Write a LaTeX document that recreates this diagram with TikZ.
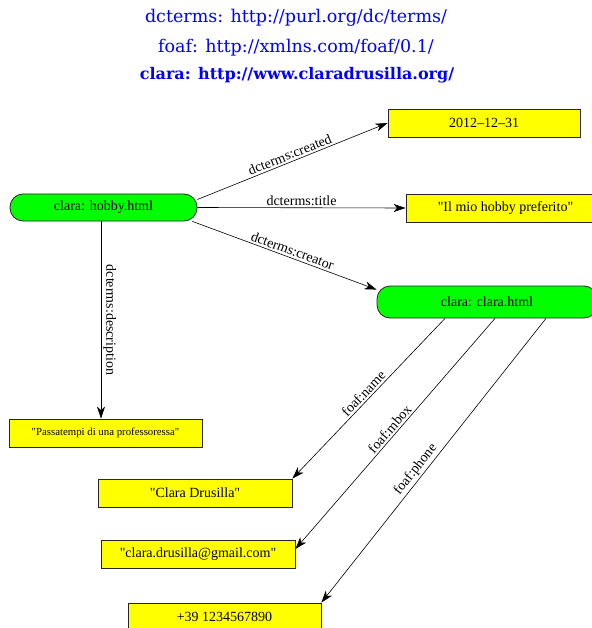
\documentclass[tikz,border=0pt]{standalone}
\usepackage{fontspec}
\setmainfont{Liberation Serif}
\newfontfamily\headfont{DejaVu Serif}
\usetikzlibrary{arrows.meta}
\definecolor{resgreen}{HTML}{00FF00}
\definecolor{lityellow}{HTML}{FFFF00}
\definecolor{headblue}{HTML}{0000FF}
\newcommand{\dq}{\textquotedbl}
\tikzset{
  resource/.style={draw=black!85, line width=0.8pt, fill=resgreen, rounded corners=13pt,
    inner sep=0pt, font=\fontsize{14}{16}\selectfont},
  literal/.style={draw=black!85, line width=0.8pt, fill=lityellow, inner sep=0pt,
    minimum height=28pt, font=\fontsize{14}{16}\selectfont},
  prop/.style={-{Stealth[length=12pt,width=8pt,inset=3.5pt]}, line width=0.6pt, black},
  plabel/.style={font=\fontsize{14}{16}\selectfont, inner sep=2pt},
  header/.style={text=headblue, font=\headfont\fontsize{17.5}{19}\selectfont, inner sep=0pt}
}
\begin{document}
\begin{tikzpicture}[x=1pt,y=1pt]
\useasboundingbox (0,0) rectangle (591,-628);

% namespace prefixes
\node[header] (ns1) at (296,-18) {dcterms: http://purl.org/dc/terms/};
\node[header] (ns2) at (296,-48) {foaf: http://xmlns.com/foaf/0.1/};
\node[header, font=\headfont\bfseries\fontsize{16}{18}\selectfont] (ns3) at (297,-75) {clara: http://www.claradrusilla.org/};

% resources
\node[resource, minimum width=187pt, minimum height=27pt] (hobby) at (103.5,-207.5) {clara: hobby.html};
\node[resource, minimum width=220pt, minimum height=32pt] (clara) at (487,-302) {clara: clara.html};

% literals
\node[literal, minimum width=192pt] (date) at (484,-123) {2012--12--31};
\node[literal, minimum width=199pt] (title) at (505.5,-208) {\dq Il mio hobby preferito\dq};
\node[literal, minimum width=193pt, font=\fontsize{10.8}{12}\selectfont] (desc) at (105.5,-433) {\dq Passatempi di una professoressa\dq};
\node[literal, minimum width=194pt] (name) at (195,-493) {\dq Clara Drusilla\dq};
\node[literal, minimum width=194pt] (mbox) at (198,-554) {\dq clara.drusilla@gmail.com\dq};
\node[literal, minimum width=193pt] (phone) at (224.5,-617) {+39 1234567890};

% properties of clara: hobby.html
\draw[prop] ([yshift=8pt]hobby.east) -- node[plabel, sloped, above] {dcterms:created} (date.west);
\draw[prop] (hobby.east) -- node[plabel, sloped, above] {dcterms:title} (title.west);
\draw[prop] ([xshift=-5pt]hobby.south east) -- node[plabel, sloped, above, pos=0.53] {dcterms:creator} ([yshift=-4pt]clara.north west);
\draw[prop] ([xshift=-2.5pt]hobby.south) -- node[plabel, rotate=-90, anchor=south, pos=0.5] {dcterms:description} ([xshift=-2.5pt]hobby.south |- desc.north);

% properties of clara: clara.html
\draw[prop] ([xshift=-42pt]clara.south) -- node[plabel, sloped, above] {foaf:name} (name.north east);
\draw[prop] ([xshift=8pt]clara.south) -- node[plabel, sloped, above] {foaf:mbox} ([yshift=5pt]mbox.east);
\draw[prop] ([xshift=59pt]clara.south) -- node[plabel, sloped, above, pos=0.55] {foaf:phone} (phone.north east);
\end{tikzpicture}
\end{document}
